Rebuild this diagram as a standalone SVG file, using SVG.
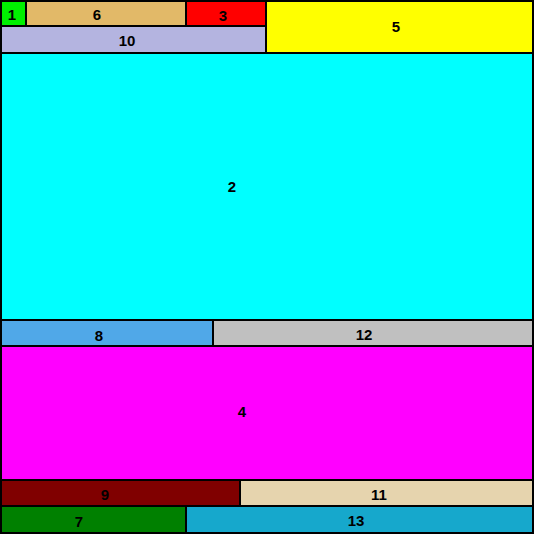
<svg xmlns="http://www.w3.org/2000/svg" width="534" height="534" viewBox="0 0 534 534">
<style>
rect{stroke:#000;stroke-width:2}
text{font-family:"Liberation Sans",Arial,sans-serif;font-weight:bold;font-size:15px;fill:#000;text-anchor:middle;dominant-baseline:central}
</style>
<rect x="0" y="0" width="534" height="534" fill="#fff" stroke="none"/>
<g id="n1"><rect x="1" y="1" width="25" height="25" fill="#00f000"/><text x="12" y="14">1</text></g>
<g id="n6"><rect x="26" y="1" width="160" height="25" fill="#e2b968"/><text x="97" y="14">6</text></g>
<g id="n3"><rect x="186" y="1" width="80" height="25" fill="#ff0000"/><text x="223" y="15">3</text></g>
<g id="n5"><rect x="266" y="1" width="267" height="52" fill="#ffff00"/><text x="396" y="26">5</text></g>
<g id="n10"><rect x="1" y="26" width="265" height="27" fill="#b4b4e0"/><text x="127" y="40">10</text></g>
<g id="n2"><rect x="1" y="53" width="532" height="267" fill="#00ffff"/><text x="232" y="186">2</text></g>
<g id="n8"><rect x="1" y="320" width="212" height="26" fill="#50a8e8"/><text x="99" y="335">8</text></g>
<g id="n12"><rect x="213" y="320" width="320" height="26" fill="#c0c0c0"/><text x="364" y="334">12</text></g>
<g id="n4"><rect x="1" y="346" width="532" height="134" fill="#ff00ff"/><text x="242" y="411">4</text></g>
<g id="n9"><rect x="1" y="480" width="239" height="26" fill="#800000"/><text x="105" y="494">9</text></g>
<g id="n11"><rect x="240" y="480" width="293" height="26" fill="#e6d4ae"/><text x="379" y="494">11</text></g>
<g id="n7"><rect x="1" y="506" width="185" height="27" fill="#008000"/><text x="79" y="521">7</text></g>
<g id="n13"><rect x="186" y="506" width="347" height="27" fill="#16a8cc"/><text x="356" y="520">13</text></g>
<g id="connectors"></g>
</svg>
